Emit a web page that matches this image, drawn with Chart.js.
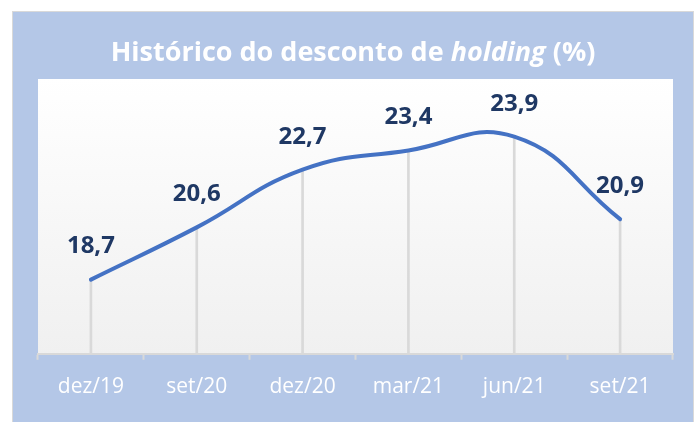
<!DOCTYPE html>
<html>
<head>
<meta charset="utf-8">
<script src="https://cdn.jsdelivr.net/npm/chart.js@4.4.0/dist/chart.umd.min.js"></script>
<style>
  html, body { margin: 0; padding: 0; background: #ffffff; }
  #wrap { position: relative; width: 697px; height: 422px; }
  #titulo {
    position: absolute; left: 13px; width: 680px; top: 36px;
    text-align: center; color: #ffffff;
    font-family: "Open Sans", sans-serif; font-weight: 700;
    font-size: 27px; line-height: 30px; white-space: nowrap;
  }
</style>
</head>
<body>
<div id="wrap">
  <canvas id="grafico" width="697" height="422"></canvas>
  <div id="titulo">Histórico do desconto de <i>holding</i> (%)</div>
</div>
<script>
// Dados do gráfico
const periodos = ['dez/19', 'set/20', 'dez/20', 'mar/21', 'jun/21', 'set/21'];
const desconto = [18.7, 20.6, 22.7, 23.4, 23.9, 20.9];

// Fundo azul da moldura e gradiente da área do gráfico
const fundoPlugin = {
  id: 'fundo',
  beforeDraw(chart) {
    const c = chart.ctx;
    const a = chart.chartArea;
    c.save();
    c.fillStyle = '#b4c7e7';
    c.fillRect(13, 12, 680, 412);
    c.strokeStyle = '#d9d9d9';
    c.lineWidth = 1;
    c.strokeRect(12.5, 11.5, 681, 420);
    const g = c.createLinearGradient(0, a.top, 0, a.bottom);
    g.addColorStop(0, '#ffffff');
    g.addColorStop(1, '#f0f0f0');
    c.fillStyle = g;
    c.fillRect(a.left, a.top, a.right - a.left, a.bottom - a.top);
    c.restore();
  }
};

// Rótulos de valor acima dos pontos
const rotulosPlugin = {
  id: 'rotulos',
  afterDatasetsDraw(chart) {
    const c = chart.ctx;
    const meta = chart.getDatasetMeta(1);
    c.save();
    c.font = 'bold 24px "Open Sans", sans-serif';
    c.fillStyle = '#1f3864';
    c.textAlign = 'center';
    c.textBaseline = 'middle';
    meta.data.forEach((p, i) => {
      c.fillText(desconto[i].toFixed(1).replace('.', ','), p.x, p.y - 33);
    });
    c.restore();
  }
};

new Chart(document.getElementById('grafico'), {
  data: {
    labels: periodos,
    datasets: [{
      type: 'bar',
      data: desconto,
      backgroundColor: '#d9d9d9',
      barThickness: 2,
      order: 2
    }, {
      type: 'line',
      data: desconto,
      borderColor: '#4472c4',
      borderWidth: 4,
      tension: 0.45,
      pointRadius: 0,
      borderCapStyle: 'round',
      order: 1
    }]
  },
  options: {
    responsive: false,
    animation: false,
    layout: { padding: { left: 38, right: 24, top: 79, bottom: 7 } },
    plugins: {
      legend: { display: false },
      tooltip: { enabled: false }
    },
    scales: {
      x: {
        offset: true,
        grid: {
          offset: true,
          drawOnChartArea: false,
          color: '#d9d9d9',
          tickLength: 6,
          tickWidth: 2
        },
        border: { color: '#d9d9d9', width: 2 },
        ticks: {
          color: '#ffffff',
          padding: 15,
          font: { family: '"Open Sans", sans-serif', size: 21 }
        }
      },
      y: { display: false, min: 16, max: 26 }
    }
  },
  plugins: [fundoPlugin, rotulosPlugin]
});
</script>
</body>
</html>
